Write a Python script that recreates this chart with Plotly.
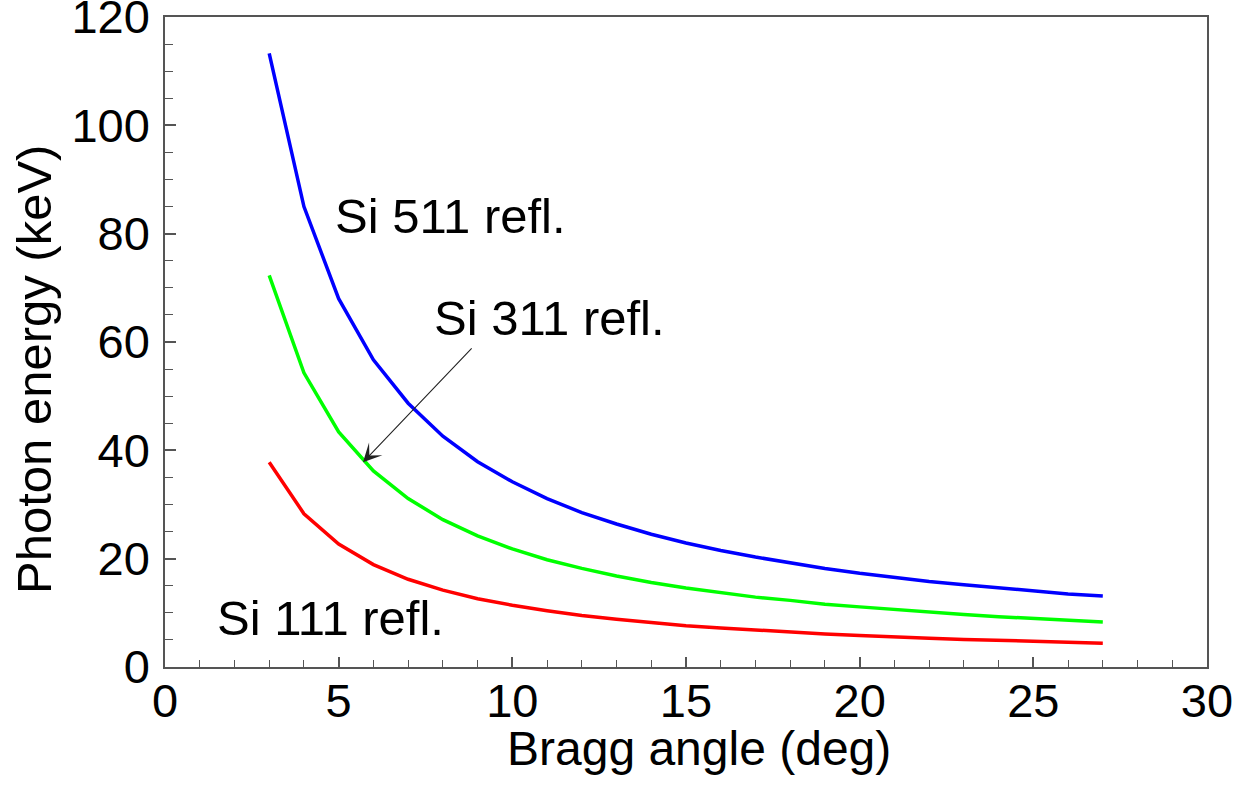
import plotly.graph_objects as go

# Bragg angle (deg)
angle = [3, 4, 5, 6, 7, 8, 9, 10, 11, 12, 13, 14, 15, 16, 17, 18, 19, 20, 21, 22, 23, 24, 25, 26, 27]
# Photon energy (keV)
si111 = [37.8, 28.3, 22.7, 18.9, 16.2, 14.2, 12.6, 11.4, 10.4, 9.5, 8.8, 8.2, 7.6, 7.2, 6.8,
         6.4, 6.1, 5.8, 5.5, 5.3, 5.1, 4.9, 4.7, 4.5, 4.4]
si311 = [72.3, 54.3, 43.4, 36.2, 31.1, 27.2, 24.2, 21.8, 19.8, 18.2, 16.8, 15.6, 14.6, 13.7, 12.9,
         12.3, 11.6, 11.1, 10.6, 10.1, 9.7, 9.3, 9.0, 8.6, 8.3]
si511 = [113.3, 85.0, 68.0, 56.7, 48.7, 42.6, 37.9, 34.2, 31.1, 28.5, 26.4, 24.5, 22.9, 21.5, 20.3,
         19.2, 18.2, 17.3, 16.5, 15.8, 15.2, 14.6, 14.0, 13.5, 13.1]

x_ticks = [0, 5, 10, 15, 20, 25, 30]
y_ticks = [0, 20, 40, 60, 80, 100, 120]

FONT = "Liberation Sans, Arial, sans-serif"

fig = go.Figure()
for vals, col, name in [(si111, "#ff0000", "Si 111"), (si311, "#00ff00", "Si 311"), (si511, "#0000ff", "Si 511")]:
    fig.add_trace(go.Scatter(x=angle, y=vals, mode="lines", name=name,
                             line=dict(color=col, width=3.5), showlegend=False))

axis_common = dict(showgrid=False, zeroline=False, showline=True, linecolor="#555555",
                   linewidth=1.5, mirror=True, ticks="inside", tickcolor="#555555",
                   tickwidth=1.5, ticklabeloverflow="allow", automargin=False,
                   tickfont=dict(family=FONT, size=47, color="black"))

fig.update_xaxes(range=[0, 30.0001], tickvals=x_ticks, ticktext=[str(v) for v in x_ticks], ticklen=10,
                 minor=dict(dtick=1, ticks="inside", ticklen=7, tickcolor="#555555", tickwidth=1.2),
                 ticklabelstandoff=-8, **axis_common)
fig.update_yaxes(range=[0, 120.0001], tickvals=y_ticks, ticktext=[str(v) for v in y_ticks], ticklen=11,
                 minor=dict(dtick=5, ticks="inside", ticklen=8, tickcolor="#555555", tickwidth=1.2),
                 ticklabelstandoff=4, **axis_common)

txt = dict(family=FONT, size=49, color="black")
fig.add_annotation(x=4.84, y=83.2, xref="x", yref="y", text="Si 511 refl.", showarrow=False,
                   xanchor="left", yanchor="middle", font=txt)
fig.add_annotation(x=7.69, y=64.5, xref="x", yref="y", text="Si 311 refl.", showarrow=False,
                   xanchor="left", yanchor="middle", font=txt)
fig.add_annotation(x=1.44, y=9.1, xref="x", yref="y", text="Si 111 refl.", showarrow=False,
                   xanchor="left", yanchor="middle", font=txt)
# arrow pointing to Si 311 curve
fig.add_annotation(x=5.70, y=37.8, ax=8.87, ay=59.1, xref="x", yref="y", axref="x", ayref="y",
                   text="", showarrow=True, arrowhead=3, arrowsize=2.8, arrowwidth=1.1,
                   arrowcolor="#222222", standoff=0)

# axis titles as annotations for exact placement (pixel positions, converted below)
fig.add_annotation(x=699, y=748, xref="paper", yref="paper", text="Bragg angle (deg)", showarrow=False,
                   font=dict(family=FONT, size=48, color="black"), xanchor="center", yanchor="middle")
fig.add_annotation(x=34, y=370, xref="paper", yref="paper", text="Photon energy (keV)", showarrow=False,
                   font=dict(family=FONT, size=49, color="black"), textangle=-90,
                   xanchor="center", yanchor="middle")

fig.update_layout(width=1240, height=786, margin=dict(l=165, r=33, t=17, b=119),
                  plot_bgcolor="white", paper_bgcolor="white")

W, H = 1240, 786
L, R, T, B = 165, 33, 17, 119
pw, ph = W - L - R, H - T - B
for a in fig.layout.annotations:
    if a.xref == "paper":
        a.x = (a.x - L) / pw
        a.y = 1 - (a.y - T) / ph

fig.write_html("out.html")
